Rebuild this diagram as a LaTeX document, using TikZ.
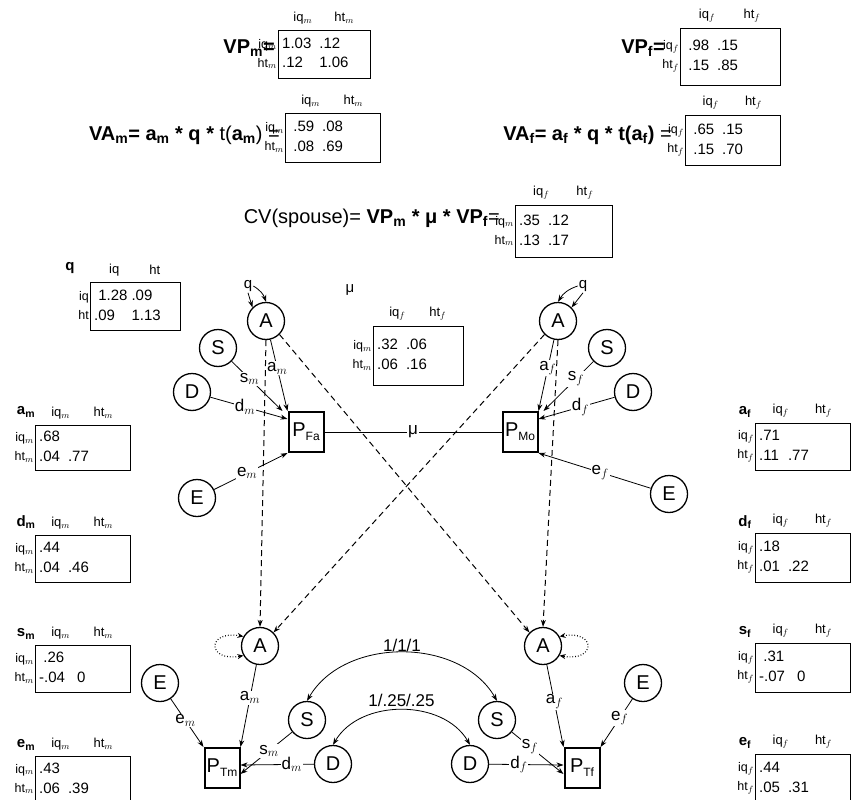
\documentclass[tikz,border=0pt]{standalone}
\usepackage{fontspec}
\setmainfont{Liberation Sans}
\usetikzlibrary{arrows.meta,calc}
\newcommand\mtx[9]{%
  \draw[line width=0.8pt] (#2,#3) rectangle (#4,#5);
  \pgfmathsetmacro\hxa{#2+0.27*(#4-#2)}\pgfmathsetmacro\hxb{#2+0.72*(#4-#2)}
  \pgfmathsetmacro\ym{(#3+#5)/2}\pgfmathsetmacro\xm{(#2+#4)/2}\pgfmathsetmacro\yh{#3-12}
  \node[hdr] (#1h1) at (\hxa,\yh) {#6};
  \node[hdr] (#1h2) at (\hxb,\yh) {#7};
  \node[hdr,align=right,anchor=east,inner sep=1pt,font=\fontsize{12.5}{19}\selectfont] (#1r) at (#2,\ym) {#8};
  \node[mt,anchor=west] (#1c) at (#2+4,\ym) {#9};
}
\newcommand\psub[1]{P\raisebox{-4pt}{\fontsize{12}{14}\selectfont #1}}
\begin{document}
\begin{tikzpicture}[x=1pt,y=-1pt,
  hdr/.style={font=\fontsize{13}{15}\selectfont,inner sep=0pt},
  mt/.style={font=\fontsize{15}{20}\selectfont,inner sep=0pt},
  big/.style={font=\fontsize{20}{24}\selectfont,inner sep=0pt},
  ttl/.style={font=\bfseries\fontsize{15}{18}\selectfont,inner sep=0pt},
  lat/.style={circle,draw,line width=1.3pt,minimum size=37pt,inner sep=0pt,font=\fontsize{20}{24}\selectfont},
  obs/.style={rectangle,draw,line width=2pt,minimum width=35pt,minimum height=40pt,inner sep=0pt,font=\fontsize{20}{24}\selectfont},
  arr/.style={-{Stealth[length=7pt,width=5pt]},line width=0.8pt},
  dsh/.style={arr,dashed,dash pattern=on 6pt off 4pt,line width=1pt},
  lab/.style={fill=white,inner sep=1pt,font=\fontsize{17}{20}\selectfont}]
\useasboundingbox (0,0) rectangle (865,800);
% top equations
\node[big,anchor=east] (vpm) at (275,48) {\textbf{VP$_\mathbf{m}$=}};
\mtx{VPm}{278}{30}{370}{78}{iq$_m$}{ht$_m$}{iq$_m$\\ht$_m$}{\begin{tabular}{@{}l@{\hspace{8pt}}l@{}}1.03 & .12\\ .12 & 1.06\end{tabular}}
\node[big,anchor=east] (vpf) at (665,48) {\textbf{VP$_\mathbf{f}$=}};
\mtx{VPf}{680}{28}{780}{85}{iq$_f$}{ht$_f$}{iq$_f$\\ht$_f$}{\begin{tabular}{@{}l@{\hspace{8pt}}l@{}}\ .98 & .15\\ \ .15 & .85\end{tabular}}
\node[big,anchor=east] (vam) at (280,135) {\textbf{VA$_\mathbf{m}$= a$_\mathbf{m}$ * q *} t(\textbf{a$_\mathbf{m}$}) =};
\mtx{VAm}{285}{113}{380}{162}{iq$_m$}{ht$_m$}{iq$_m$\\ht$_m$}{\begin{tabular}{@{}l@{\hspace{8pt}}l@{}}\ .59 & .08\\ \ .08 & .69\end{tabular}}
\node[big,anchor=east] (vaf) at (672,135) {\textbf{VA$_\mathbf{f}$= a$_\mathbf{f}$ * q * t(a$_\mathbf{f}$)} =};
\mtx{VAf}{685}{115}{780}{165}{iq$_f$}{ht$_f$}{iq$_f$\\ht$_f$}{\begin{tabular}{@{}l@{\hspace{8pt}}l@{}}\ .65 & .15\\ \ .15 & .70\end{tabular}}
\node[big,anchor=east] (cv) at (500,218) {CV(spouse)= \textbf{VP$_\mathbf{m}$ * μ * VP$_\mathbf{f}$}=};
\mtx{CV}{515}{205}{612}{257}{iq$_f$}{ht$_f$}{iq$_m$\\ht$_m$}{\begin{tabular}{@{}l@{\hspace{8pt}}l@{}}.35 & .12\\ .13 & .17\end{tabular}}
% q matrix
\node[ttl] (qt) at (70,268) {q};
\mtx{Q}{90}{282}{180}{330}{iq}{ht}{iq\\ht}{\begin{tabular}{@{}l@{\hspace{4pt}}l@{}}\ 1.28 & .09\\ .09 & 1.13\end{tabular}}
% mu matrix
\node[hdr,font=\fontsize{15}{18}\selectfont] (mut) at (350,290) {μ};
\mtx{MU}{373}{326}{463}{385}{iq$_f$}{ht$_f$}{iq$_m$\\ht$_m$}{\begin{tabular}{@{}l@{\hspace{8pt}}l@{}}.32 & .06\\ .06 & .16\end{tabular}}
% left matrices
\node[ttl] (amt) at (26,412) {a$_\mathbf{m}$};
\mtx{Am}{35}{425}{130}{470}{iq$_m$}{ht$_m$}{iq$_m$\\ht$_m$}{\begin{tabular}{@{}l@{\hspace{8pt}}l@{}}.68 & \\ .04 & .77\end{tabular}}
\node[ttl] (dmt) at (26,522) {d$_\mathbf{m}$};
\mtx{Dm}{35}{535}{130}{582}{iq$_m$}{ht$_m$}{iq$_m$\\ht$_m$}{\begin{tabular}{@{}l@{\hspace{8pt}}l@{}}.44 & \\ .04 & .46\end{tabular}}
\node[ttl] (smt) at (26,634) {s$_\mathbf{m}$};
\mtx{Sm}{35}{645}{130}{692}{iq$_m$}{ht$_m$}{iq$_m$\\ht$_m$}{\begin{tabular}{@{}l@{\hspace{8pt}}l@{}}\ .26 & \\ -.04 & \ 0\end{tabular}}
\node[ttl] (emt) at (26,745) {e$_\mathbf{m}$};
\mtx{Em}{35}{756}{130}{802}{iq$_m$}{ht$_m$}{iq$_m$\\ht$_m$}{\begin{tabular}{@{}l@{\hspace{8pt}}l@{}}.43 & \\ .06 & .39\end{tabular}}
% right matrices
\node[ttl] (aft) at (745,412) {a$_\mathbf{f}$};
\mtx{Af}{755}{423}{850}{470}{iq$_f$}{ht$_f$}{iq$_f$\\ht$_f$}{\begin{tabular}{@{}l@{\hspace{8pt}}l@{}}.71 & \\ .11 & .77\end{tabular}}
\node[ttl] (dft) at (745,522) {d$_\mathbf{f}$};
\mtx{Df}{755}{533}{850}{582}{iq$_f$}{ht$_f$}{iq$_f$\\ht$_f$}{\begin{tabular}{@{}l@{\hspace{8pt}}l@{}}.18 & \\ .01 & .22\end{tabular}}
\node[ttl] (sft) at (745,632) {s$_\mathbf{f}$};
\mtx{Sf}{755}{643}{850}{692}{iq$_f$}{ht$_f$}{iq$_f$\\ht$_f$}{\begin{tabular}{@{}l@{\hspace{8pt}}l@{}}\ .31 & \\ -.07 & \ 0\end{tabular}}
\node[ttl] (eft) at (745,743) {e$_\mathbf{f}$};
\mtx{Ef}{755}{754}{850}{802}{iq$_f$}{ht$_f$}{iq$_f$\\ht$_f$}{\begin{tabular}{@{}l@{\hspace{8pt}}l@{}}.44 & \\ .05 & .31\end{tabular}}
% parents
\node[lat] (Afa) at (266,321) {A};
\node[lat] (Sfa) at (218,348) {S};
\node[lat] (Dfa) at (192,392) {D};
\node[lat] (Efa) at (197,498) {E};
\node[obs] (Pfa) at (306,432) {\psub{Fa}};
\node[lat] (Amo) at (558,321) {A};
\node[lat] (Smo) at (607,348) {S};
\node[lat] (Dmo) at (633,392) {D};
\node[lat] (Emo) at (669,494) {E};
\node[obs] (Pmo) at (520,432) {\psub{Mo}};
\node[lab,font=\fontsize{15}{18}\selectfont,fill=none] (qfa) at (248,286) {q};
\draw[arr] (qfa.east) to[bend left=20] (Afa.north);
\draw[arr] (qfa.south) to (Afa.north west);
\node[lab,font=\fontsize{15}{18}\selectfont,fill=none] (qmo) at (583,286) {q};
\draw[arr] (qmo.west) to[bend right=20] (Amo.north);
\draw[arr] (qmo.south) to (Amo.north east);
\draw[arr] (Afa) -- node[lab,pos=0.4]{a$_m$} (Pfa.north west);
\draw[arr] (Sfa) -- node[lab,pos=0.35]{s$_m$} ([xshift=-5pt]Pfa.north west);
\draw[arr] (Dfa) -- node[lab,pos=0.45]{d$_m$} ([yshift=-8pt]Pfa.north west);
\draw[arr] (Efa) -- node[lab,pos=0.45]{e$_m$} (Pfa.south west);
\draw[arr] (Amo) -- node[lab,pos=0.4]{a$_f$} (Pmo.north east);
\draw[arr] (Smo) -- node[lab,pos=0.35]{s$_f$} ([xshift=5pt]Pmo.north east);
\draw[arr] (Dmo) -- node[lab,pos=0.45]{d$_f$} ([yshift=-8pt]Pmo.north east);
\draw[arr] (Emo) -- node[lab,pos=0.45]{e$_f$} (Pmo.south east);
\draw[line width=0.8pt] (Pfa) -- node[lab]{μ} (Pmo);
% twins
\node[lat] (Atm) at (260,646) {A};
\node[lat] (Atf) at (543,646) {A};
\node[lat] (Etm) at (160,683) {E};
\node[lat] (Etf) at (643,683) {E};
\node[lat] (Stm) at (307,720) {S};
\node[lat] (Stf) at (497,720) {S};
\node[lat] (Dtm) at (333,764) {D};
\node[lat] (Dtf) at (470,764) {D};
\node[obs] (Ptm) at (222,768) {\psub{Tm}};
\node[obs] (Ptf) at (582,768) {\psub{Tf}};
\draw[dsh] (Afa.south) -- (Atm.north);
\draw[dsh] (Amo.south) -- (Atf.north);
\draw[dsh] (Afa.south east) -- (Atf.north west);
\draw[dsh] (Amo.south west) -- (Atm.north east);
\draw[arr,dotted,line width=1.2pt,{Stealth[length=6pt,width=5pt]}-{Stealth[length=6pt,width=5pt]}] (Atm.150) to[out=170,in=190,looseness=5] (Atm.210);
\draw[arr,dotted,line width=1.2pt,{Stealth[length=6pt,width=5pt]}-{Stealth[length=6pt,width=5pt]}] (Atf.30) to[out=10,in=-10,looseness=5] (Atf.-30);
\draw[arr] (Atm) -- node[lab,pos=0.4]{a$_m$} (Ptm.north east);
\draw[arr] (Atf) -- node[lab,pos=0.45]{a$_f$} (Ptf.north west);
\draw[arr] (Etm) -- node[lab,pos=0.45]{e$_m$} (Ptm.north west);
\draw[arr] (Etf) -- node[lab,pos=0.4]{e$_f$} (Ptf.north east);
\draw[arr] (Stm) -- node[lab,pos=0.45]{s$_m$} ([yshift=-6pt]Ptm.east);
\draw[arr] (Stf) -- node[lab,pos=0.35]{s$_f$} ([yshift=-6pt]Ptf.west);
\draw[arr] (Dtm) -- node[lab,pos=0.3]{d$_m$} ([yshift=3pt]Ptm.east);
\draw[arr] (Dtf) -- node[lab,pos=0.4]{d$_f$} ([yshift=3pt]Ptf.west);
\draw[arr,{Stealth[length=7pt,width=5pt]}-{Stealth[length=7pt,width=5pt]}] (Stm.north) to[out=60,in=120] node[lab,above,fill=none]{1/1/1} (Stf.north);
\draw[arr,{Stealth[length=7pt,width=5pt]}-{Stealth[length=7pt,width=5pt]}] (Dtm.north) to[out=60,in=120] node[lab,above=2pt,fill=none]{1/.25/.25} (Dtf.north);
\end{tikzpicture}
\end{document}
